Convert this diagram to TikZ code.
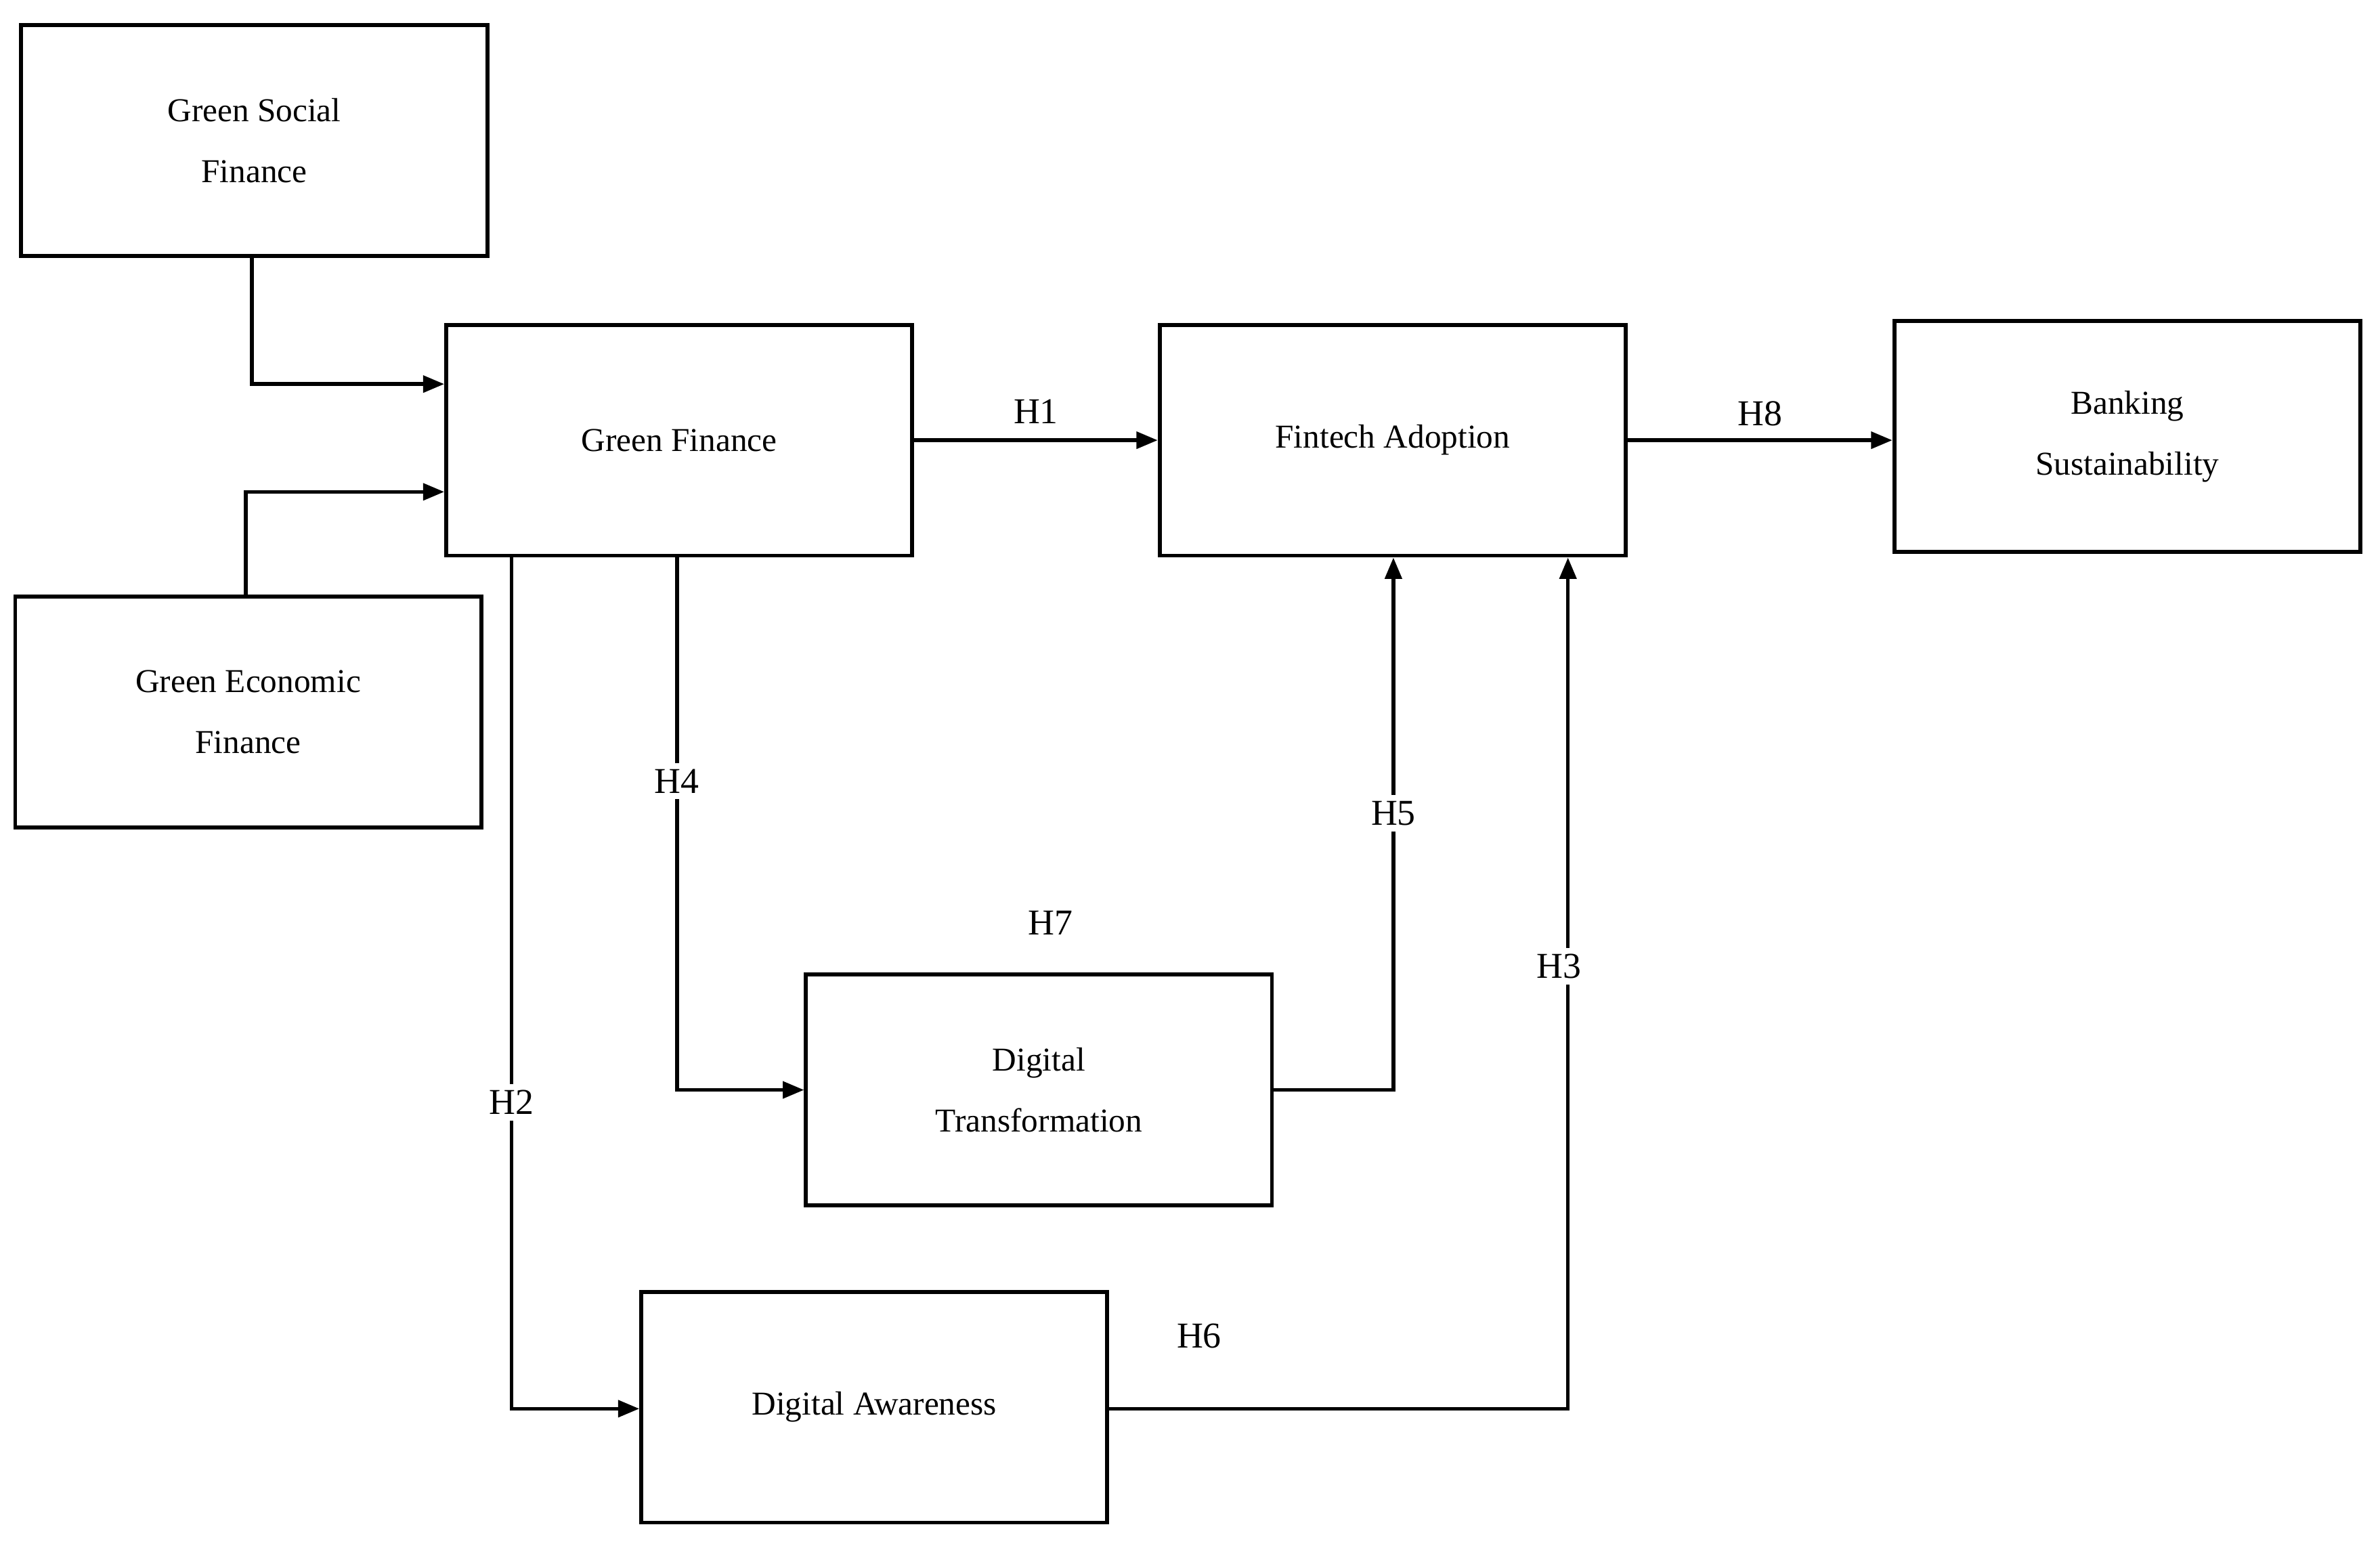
\documentclass[tikz,border=0pt]{standalone}
\usepackage{fontspec}
\setmainfont{Liberation Serif}
\usetikzlibrary{arrows.meta}
\begin{document}
\begin{tikzpicture}[x=1pt,y=-1pt,
  box/.style={draw,line width=2.6pt,minimum width=307pt,minimum height=152pt,align=center,font=\fontsize{22}{40}\selectfont},
  con/.style={line width=2.4pt,-{Triangle[length=14pt,width=11pt]}},
  lab/.style={fill=white,inner sep=4pt,font=\fontsize{24}{28}\selectfont}]
\useasboundingbox (0,0) rectangle (1568,1021);
\node[box] (gsf) at (167.5,92.5) {Green Social\\Finance};
\node[box] (gf) at (447.5,290) {Green Finance};
\node[box] (gef) at (163.5,469) {Green Economic\\Finance};
\node[box] (fa) at (917.5,290) {Fintech Adoption};
\node[box] (bs) at (1401.5,287.5) {Banking\\Sustainability};
\node[box] (dt) at (684.5,718) {Digital\\Transformation};
\node[box] (da) at (576,927) {Digital Awareness};
\coordinate (c1) at (166,253);
\coordinate (c2) at (162,324);
\draw[con] (c1 |- gsf.south) -- (c1) -- (c1 -| gf.west);
\draw[con] (c2 |- gef.north) -- (c2) -- (c2 -| gf.west);
\draw[con] (gf.east) -- node[lab,above=6pt,fill=none]{H1} (gf.east -| fa.west);
\draw[con] (fa.east) -- node[lab,above=4pt,fill=none]{H8} (fa.east -| bs.west);
\coordinate (c4) at (446,718);
\draw[con] (c4 |- gf.south) -- node[lab,pos=0.42]{H4} (c4) -- (dt.west);
\coordinate (c5) at (918,718);
\draw[con] (dt.east) -- (c5) -- node[lab,pos=0.52]{H5} (c5 |- fa.south);
\coordinate (c2b) at (337,928);
\draw[con] (c2b |- gf.south) -- node[lab,pos=0.64]{H2} (c2b) -- (c2b -| da.west);
\coordinate (c3) at (1033,928);
\draw[con] (c3 -| da.east) -- (c3) -- node[lab,pos=0.52,xshift=-6pt]{H3} (c3 |- fa.south);
\node[lab,fill=none] (h6) at (790,880) {H6};
\node[lab,fill=none] (h7) at (692,608) {H7};
\end{tikzpicture}
\end{document}
